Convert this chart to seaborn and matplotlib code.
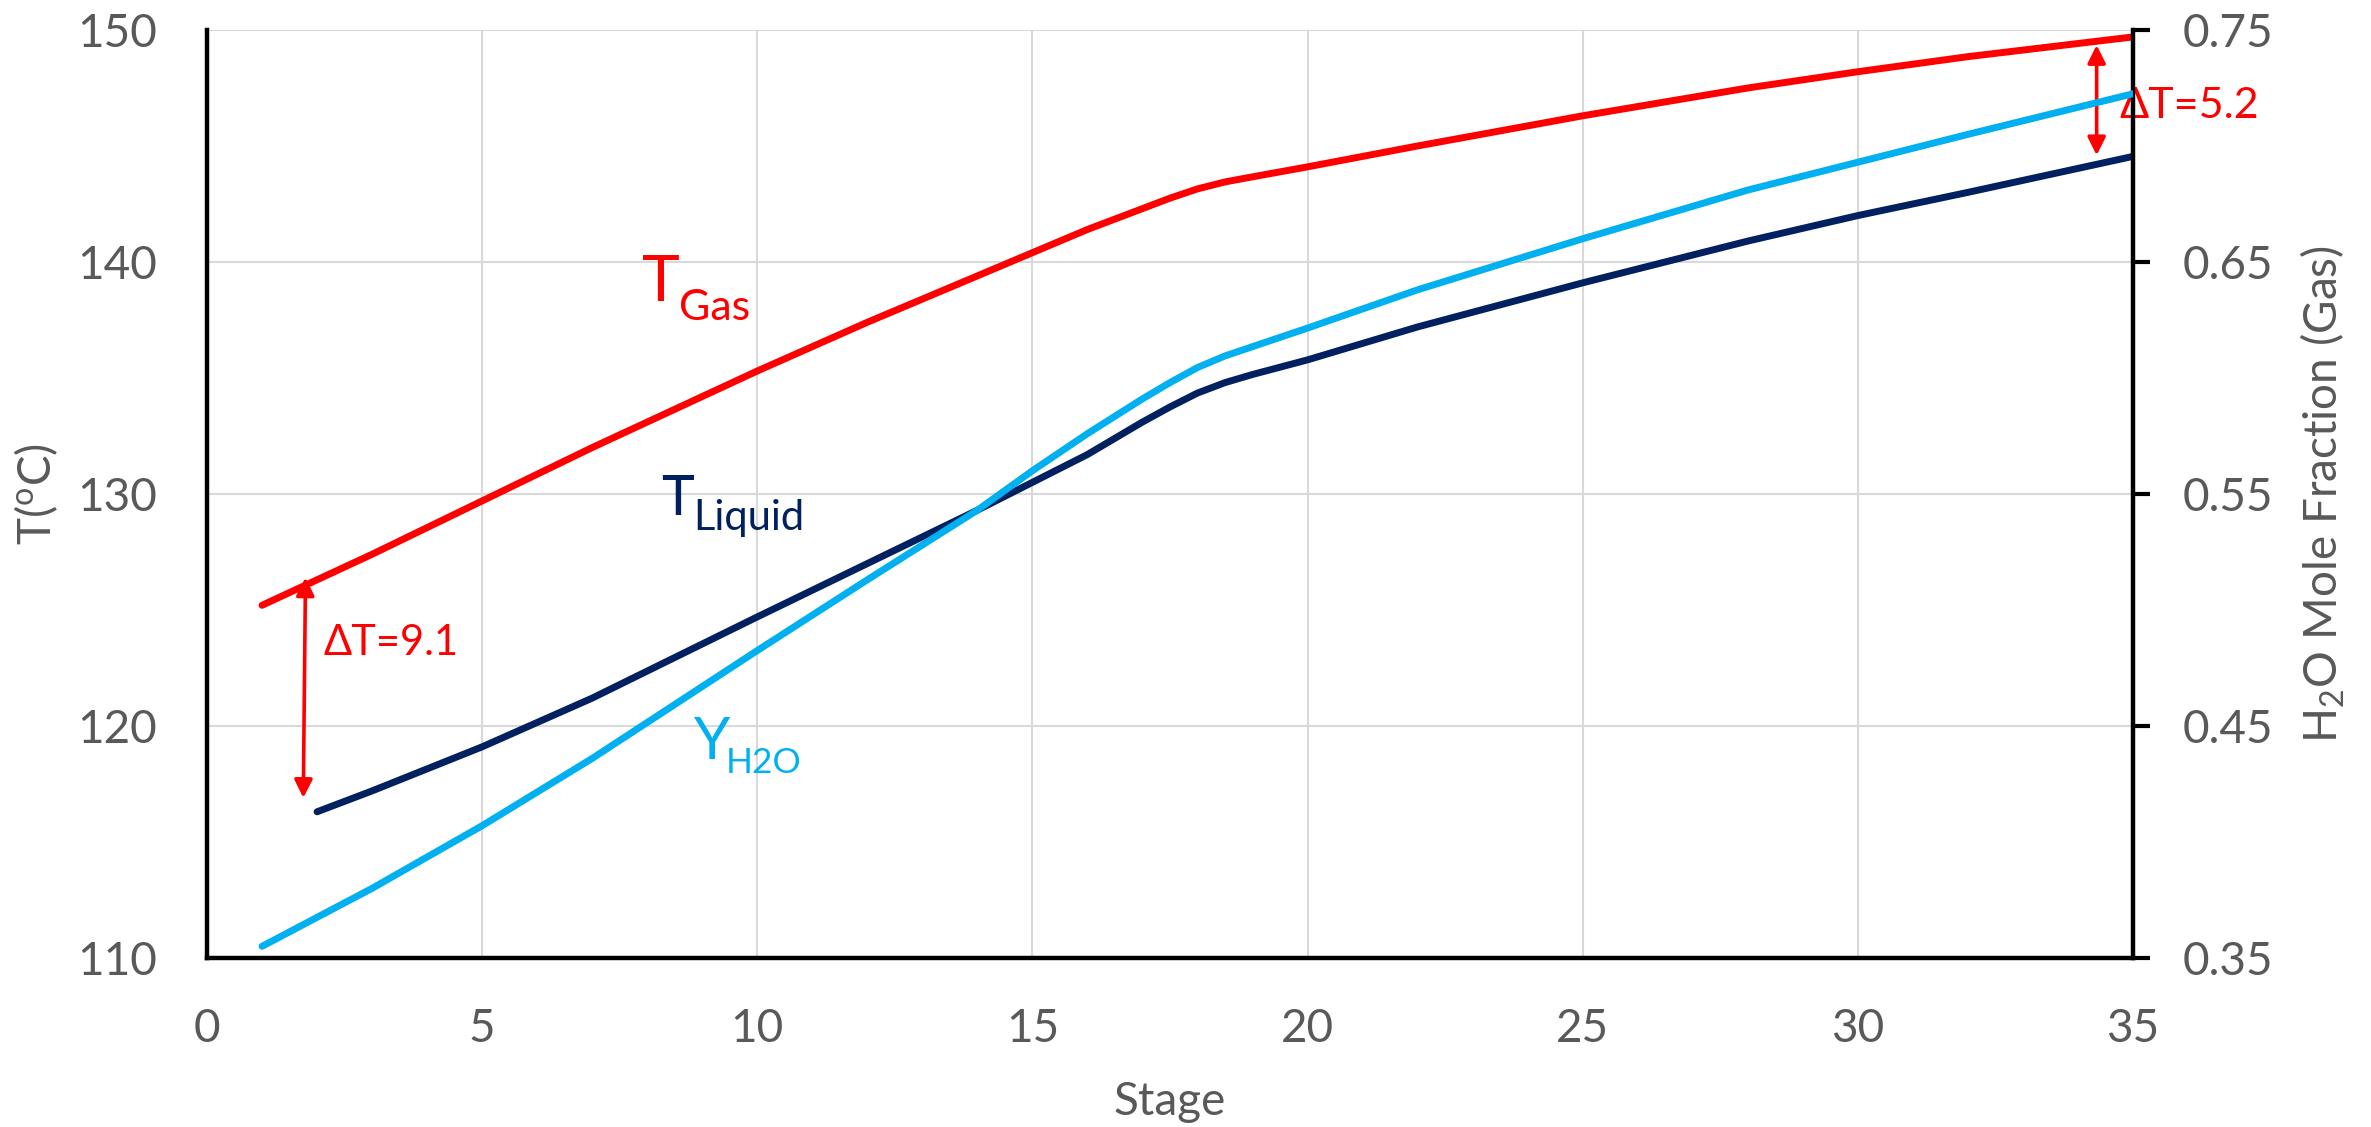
import matplotlib
matplotlib.use("Agg")
import matplotlib.pyplot as plt
import pandas as pd
import seaborn as sns

# Values
stage_gas = [1, 2, 3, 5, 7, 10, 12, 15, 16, 17, 17.5, 18, 18.5, 19, 20, 22, 25, 28, 30, 32, 35]
t_gas = [125.2, 126.3, 127.4, 129.7, 132.0, 135.3, 137.4, 140.4, 141.4, 142.3, 142.75,
         143.15, 143.45, 143.67, 144.1, 145.0, 146.3, 147.5, 148.2, 148.85, 149.7]

stage_liq = [2, 3, 5, 7, 10, 12, 14, 15, 16, 17, 17.5, 18, 18.5, 19, 20, 22, 25, 28, 30, 32, 35]
t_liq = [116.3, 117.2, 119.1, 121.2, 124.7, 127.0, 129.3, 130.5, 131.7, 133.1, 133.75,
         134.35, 134.8, 135.15, 135.78, 137.2, 139.1, 140.9, 142.0, 143.0, 144.55]

stage_y = [1, 3, 5, 7, 10, 12, 14, 15, 16, 17, 17.5, 18, 18.5, 19, 20, 22, 25, 28, 30, 32, 35]
y_h2o = [0.355, 0.380, 0.407, 0.436, 0.4825, 0.513, 0.543, 0.560, 0.576, 0.591, 0.598,
         0.6045, 0.6095, 0.6135, 0.6215, 0.638, 0.660, 0.681, 0.693, 0.705, 0.7225]

x_ticks = [0, 5, 10, 15, 20, 25, 30, 35]
t_ticks = [110, 120, 130, 140, 150]
y_ticks = [0.35, 0.45, 0.55, 0.65, 0.75]

RED = "#FF0000"
NAVY = "#002060"
SKY = "#00B0F0"
GREY = "#595959"

sns.set_style("white")
plt.rcParams["font.family"] = ["Lato", "DejaVu Sans"]
plt.rcParams["mathtext.fontset"] = "custom"
plt.rcParams["mathtext.rm"] = "Lato"
plt.rcParams["mathtext.it"] = "Lato:italic"

gas = pd.DataFrame({"stage": stage_gas, "T": t_gas})
liq = pd.DataFrame({"stage": stage_liq, "T": t_liq})
yfr = pd.DataFrame({"stage": stage_y, "Y": y_h2o})

fig, ax = plt.subplots(figsize=(23.71, 11.27), dpi=100)
fig.subplots_adjust(left=0.0873, right=0.8996, bottom=0.15, top=0.9734)

line_kw = dict(linewidth=5, solid_capstyle="round", solid_joinstyle="round", zorder=3)
sns.lineplot(data=gas, x="stage", y="T", ax=ax, color=RED, **line_kw)
sns.lineplot(data=liq, x="stage", y="T", ax=ax, color=NAVY, **line_kw)

ax.set_xlim(0, 35)
ax.set_ylim(110, 150)
ax.set_xticks(x_ticks)
ax.set_yticks(t_ticks)
ax.grid(True, color="#d9d9d9", linewidth=1.5)
ax.set_axisbelow(True)

for side in ["top", "right"]:
    ax.spines[side].set_visible(False)
for side in ["left", "bottom"]:
    ax.spines[side].set_color("black")
    ax.spines[side].set_linewidth(3.2)

ax.tick_params(axis="both", length=0, labelsize=33, labelcolor=GREY)
ax.tick_params(axis="y", pad=36)
ax.tick_params(axis="x", pad=36)
ax.set_xlabel("Stage", fontsize=33, color=GREY, labelpad=22)
ax.set_ylabel(r"T($^{\mathrm{o}}$C)", fontsize=33, color=GREY, labelpad=12)

# secondary axis for mole fraction
ax2 = ax.twinx()
sns.lineplot(data=yfr, x="stage", y="Y", ax=ax2, color=SKY, **line_kw)
ax2.set_ylim(0.35, 0.75)
ax2.set_yticks(y_ticks)
ax2.set_yticklabels([f"{v:.2f}" for v in y_ticks])
ax2.grid(False)
for side in ["top", "left", "bottom"]:
    ax2.spines[side].set_visible(False)
ax2.spines["right"].set_color("black")
ax2.spines["right"].set_linewidth(3.2)
ax2.tick_params(axis="y", direction="out", length=12, width=3, color="black",
                labelsize=33, labelcolor=GREY, pad=24)
ax2.set_ylabel(r"H$_2$O Mole Fraction (Gas)", fontsize=33, color=GREY, labelpad=18)

# curve labels
ax.text(7.9, 138.3, "T", color=RED, fontsize=46)
ax.text(8.57, 137.5, "Gas", color=RED, fontsize=31)
ax.text(8.26, 129.1, "T", color=NAVY, fontsize=40)
ax.text(8.84, 128.43, "Liquid", color=NAVY, fontsize=30)
ax.text(8.85, 118.57, "Y", color=SKY, fontsize=42)
ax.text(9.43, 117.98, "H2O", color=SKY, fontsize=25.5)

# temperature difference arrows
arrow = dict(arrowstyle="<|-|>", color=RED, lw=2.6, mutation_scale=27,
             shrinkA=0, shrinkB=0)
ax.annotate("", xy=(1.75, 116.9), xytext=(1.79, 126.4), arrowprops=arrow, zorder=4)
ax.annotate("", xy=(34.34, 144.6), xytext=(34.34, 149.35), arrowprops=arrow, zorder=4)
ax.text(2.11, 123.06, "\u0394T=9.1", color=RED, fontsize=30)
ax.text(34.75, 146.2, "\u0394T=5.2", color=RED, fontsize=31, clip_on=False, zorder=5)

fig.savefig("out.png", dpi=100)
